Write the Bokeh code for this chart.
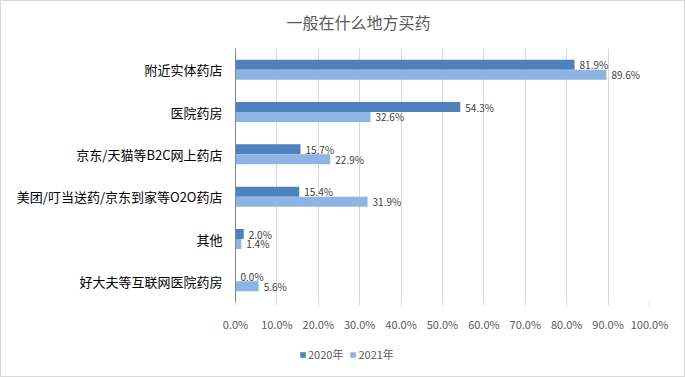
from bokeh.plotting import figure
from bokeh.layouts import column
from bokeh.models import (ColumnDataSource, FactorRange, Range1d, NumeralTickFormatter,
                          LabelSet, Label, Legend, LegendItem, FixedTicker)
from bokeh.core.properties import value
from bokeh.transform import dodge
from bokeh.embed import file_html
from bokeh.resources import INLINE

title = "一般在什么地方买药"
categories = ["附近实体药店", "医院药房", "京东/天猫等B2C网上药店",
              "美团/叮当送药/京东到家等O2O药店", "其他", "好大夫等互联网医院药房"]
series_names = ["2020年", "2021年"]
v2020 = [0.819, 0.543, 0.157, 0.154, 0.020, 0.000]
v2021 = [0.896, 0.326, 0.229, 0.319, 0.014, 0.056]
x_ticks = [0.0, 0.1, 0.2, 0.3, 0.4, 0.5, 0.6, 0.7, 0.8, 0.9, 1.0]

c2020 = "#4F81BD"
c2021 = "#8EB4E3"
font = "Noto Sans CJK SC"


def strip(h):
    s = figure(width=683, height=h, output_backend="svg", toolbar_location=None,
               x_axis_location=None, y_axis_location=None,
               x_range=Range1d(0, 1), y_range=Range1d(0, 1),
               min_border_left=0, min_border_right=0, min_border_top=0, min_border_bottom=0)
    s.outline_line_color = None
    s.xgrid.grid_line_color = None
    s.ygrid.grid_line_color = None
    return s


# title strip
tp = strip(30)
tp.add_layout(Label(x=123, y=9.5, x_units="screen", y_units="screen", text=title,
                    text_align="center", text_baseline="middle", text_font_size="16px",
                    text_color="#595959", text_font=font))

src = ColumnDataSource(dict(
    cat=categories, v2020=v2020, v2021=v2021,
    l2020=[f"{v*100:.1f}%" for v in v2020],
    l2021=[f"{v*100:.1f}%" for v in v2021],
))

p = figure(width=683, height=314, output_backend="svg", toolbar_location=None,
           y_range=FactorRange(*list(reversed(categories))),
           x_range=Range1d(0, 1),
           min_border_left=234, min_border_right=35, min_border_top=17, min_border_bottom=43)
p.outline_line_color = None

bh = 0.236
p.hbar(y=dodge("cat", bh / 2, range=p.y_range), right="v2020", left=0, height=bh,
       source=src, color=c2020, line_color=None)
p.hbar(y=dodge("cat", -bh / 2, range=p.y_range), right="v2021", left=0, height=bh,
       source=src, color=c2021, line_color=None)

for col, lab, off in [("v2020", "l2020", bh / 2), ("v2021", "l2021", -bh / 2)]:
    ls = LabelSet(x=col, y=dodge("cat", off, range=p.y_range), text=lab, source=src,
                  x_offset=5, text_font_size="10px", text_color="#404040",
                  text_baseline="middle", text_font=value(font))
    p.add_layout(ls)

# x axis
p.xaxis.ticker = FixedTicker(ticks=x_ticks)
p.xaxis.formatter = NumeralTickFormatter(format="0.0%")
p.xaxis.axis_line_color = None
p.xaxis.major_tick_line_color = "#D9D9D9"
p.xaxis.major_tick_out = 3
p.xaxis.major_tick_in = 0
p.xaxis.minor_tick_line_color = None
p.xaxis.major_label_standoff = 10
p.xaxis.major_label_text_font_size = "11px"
p.xaxis.major_label_text_color = "#595959"
p.xaxis.major_label_text_font = font

# y axis
p.yaxis.axis_line_color = "#868686"
p.yaxis.major_tick_line_color = None
p.yaxis.minor_tick_line_color = None
p.yaxis.major_tick_out = 0
p.yaxis.major_label_standoff = 13
p.yaxis.major_label_text_font_size = "13px"
p.yaxis.major_label_text_color = "#000000"
p.yaxis.major_label_text_font = font

p.xgrid.grid_line_color = "#D9D9D9"
p.xgrid.ticker = FixedTicker(ticks=x_ticks)
p.ygrid.grid_line_color = None

# legend strip
lp = strip(31)
# legend swatches only (kept outside the strip's visible range)
lr1 = lp.hbar(y=[-5], right=[1], left=0, height=0.5, color=c2020, line_color=None)
lr2 = lp.hbar(y=[-5], right=[1], left=0, height=0.5, color=c2021, line_color=None)

legend = Legend(items=[LegendItem(label=series_names[0], renderers=[lr1]),
                       LegendItem(label=series_names[1], renderers=[lr2])],
                location=(64, 14), orientation="horizontal",
                glyph_width=7, glyph_height=7, label_height=14, label_standoff=2,
                spacing=6, padding=0, margin=0,
                label_text_font_size="11px", label_text_color="#595959",
                label_text_font=font, background_fill_alpha=0, border_line_color=None)
lp.add_layout(legend)

layout = column(tp, p, lp, spacing=0)
layout.styles = {"border": "1px solid #D9D9D9"}

open("out.html", "w").write(file_html(layout, INLINE))
